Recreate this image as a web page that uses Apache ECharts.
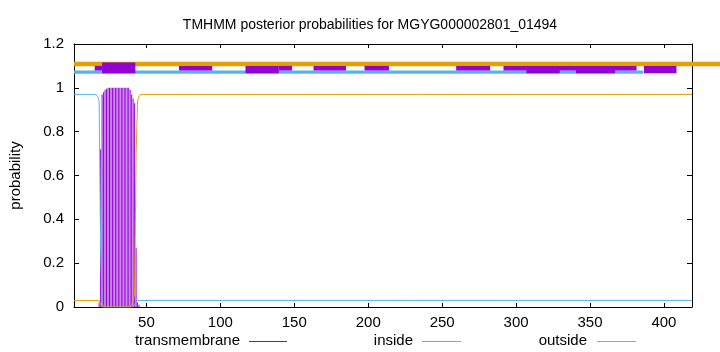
<!DOCTYPE html>
<html><head><meta charset="utf-8">
<script src="https://cdn.jsdelivr.net/npm/echarts@6/dist/echarts.min.js"></script>
<style>html,body{margin:0;padding:0;background:#fff}#c{width:720px;height:352px}</style>
</head><body><div id="c"></div>
<script>
// ---- data ----
const titleText = 'TMHMM posterior probabilities for MGYG000002801_01494';
const xTicks = [50, 100, 150, 200, 250, 300, 350, 400];
const yTicks = [0, 0.2, 0.4, 0.6, 0.8, 1, 1.2];
const seqStart = 1;
const seqEnd = 419;
const legendNames = ['transmembrane', 'inside', 'outside'];

// per-residue transmembrane posterior (impulses)
const transmembrane = [
  [17, 0.0], [18, 0.02], [19, 0.72], [20, 0.97], [21, 0.98], [22, 0.99], [23, 0.995],
  [24, 1.0], [25, 1.0], [26, 1.0], [27, 1.0], [28, 1.0], [29, 1.0], [30, 1.0],
  [31, 1.0], [32, 1.0], [33, 1.0], [34, 1.0], [35, 1.0], [36, 1.0], [37, 1.0],
  [38, 1.0], [39, 0.99], [40, 0.97], [41, 0.95], [42, 0.93], [43, 0.27], [44, 0.02], [45, 0.01]
];
// inside posterior (key residues; flat between them)
const inside = [
  [1, 0.97], [16, 0.97], [17, 0.96], [18, 0.94], [19, 0.27], [20, 0.02], [21, 0.0],
  [41, 0.0], [42, 0.01], [43, 0.03], [44, 0.03], [419, 0.03]
];
// outside posterior
const outside = [
  [1, 0.03], [18, 0.03], [19, 0.01], [20, 0.0], [39, 0.0], [40, 0.01], [41, 0.03],
  [42, 0.06], [43, 0.70], [44, 0.94], [45, 0.96], [46, 0.97], [419, 0.97]
];
// top topology tracks: [startResidue, endResidue]
const outsideTrack = [[1, 438]];
const insideTrack = [[1, 386]];
const tmThinTrack = [[15, 20], [72, 94.5], [139.5, 148.5], [163, 185], [197.5, 214], [259.5, 282.5], [291.5, 381.5]];
const tmWideTrack = [[117, 139.5], [307, 329.5], [340.5, 367], [386.5, 408.5]];
const tmHelixTrack = [[20, 42.5]];

// ---- styling / layout ----
const C_TM = '#9400d3', C_IN = '#56b4e9', C_OUT = '#e69f00';
const FONT = 'Liberation Sans, Arial, sans-serif';
const FS = 15;
const GRID = { left: 73, right: 28, top: 44, bottom: 45 };

function band(track, lo, hi, color, z) {
  return {
    type: 'custom', xAxisIndex: 0, yAxisIndex: 0, clip: false, z: z, silent: true,
    data: track.map(([a, b]) => [a, b, lo, hi]),
    encode: { x: [0, 1], y: [2, 3] },
    renderItem: (p, api) => {
      const p0 = api.coord([api.value(0), api.value(3)]);
      const p1 = api.coord([api.value(1), api.value(2)]);
      return { type: 'rect', shape: { x: p0[0], y: p0[1], width: p1[0] - p0[0], height: p1[1] - p0[1] }, style: { fill: color } };
    }
  };
}

const axisLineStyle = { color: '#000', width: 1 };
const xBase = {
  type: 'value', min: seqStart, max: seqEnd,
  axisLine: { show: true, onZero: false, lineStyle: axisLineStyle },
  axisTick: { show: true, inside: true, length: 4, customValues: xTicks, lineStyle: { color: '#000' } },
  splitLine: { show: false }
};
const yBase = {
  type: 'value', min: 0, max: 1.2, interval: 0.2,
  axisLine: { show: true, onZero: false, lineStyle: axisLineStyle },
  axisTick: { show: true, inside: true, length: 5, lineStyle: { color: '#000' } },
  splitLine: { show: false }
};

const chart = echarts.init(document.getElementById('c'), null, { renderer: 'canvas' });
chart.setOption({
  animation: false,
  backgroundColor: '#fff',
  title: {
    text: titleText, left: 365, top: 13, textAlign: 'center',
    textStyle: { fontFamily: FONT, fontSize: 14, fontWeight: 'normal', color: '#000' }
  },
  grid: GRID,
  xAxis: [
    Object.assign({}, xBase, {
      position: 'bottom',
      axisLabel: { show: true, customValues: xTicks, margin: 8, fontFamily: FONT, fontSize: FS, color: '#000' }
    }),
    Object.assign({}, xBase, { position: 'top', axisLabel: { show: false } })
  ],
  yAxis: [
    Object.assign({}, yBase, {
      position: 'left',
      name: 'probability', nameLocation: 'middle', nameGap: 51, nameRotate: 90,
      nameTextStyle: { fontFamily: FONT, fontSize: FS, color: '#000' },
      axisLabel: { show: true, margin: 10, fontFamily: FONT, fontSize: FS, color: '#000' }
    }),
    Object.assign({}, yBase, { position: 'right', axisLabel: { show: false } })
  ],
  series: [
    {
      name: legendNames[0], type: 'bar', xAxisIndex: 0, yAxisIndex: 0, barWidth: 1,
      data: transmembrane, itemStyle: { color: C_TM }, z: 2, silent: true
    },
    {
      name: legendNames[1], type: 'line', xAxisIndex: 0, yAxisIndex: 0, data: inside,
      showSymbol: false, symbol: 'none', lineStyle: { color: C_IN, width: 1 }, z: 3, silent: true
    },
    {
      name: legendNames[2], type: 'line', xAxisIndex: 0, yAxisIndex: 0, data: outside,
      showSymbol: false, symbol: 'none', lineStyle: { color: C_OUT, width: 1 }, z: 4, silent: true
    },
    band(outsideTrack, 1.099, 1.119, C_OUT, 5),
    band(insideTrack, 1.064, 1.079, C_IN, 5),
    band(tmThinTrack, 1.079, 1.100, C_TM, 6),
    band(tmWideTrack, 1.067, 1.100, C_TM, 6),
    band(tmHelixTrack, 1.067, 1.116, C_TM, 7)
  ],
  graphic: [
    { type: 'text', right: 720 - 240, top: 333, style: { text: legendNames[0], font: FS + 'px ' + FONT, fill: '#000', textAlign: 'right' } },
    { type: 'line', shape: { x1: 249, y1: 341.5, x2: 287, y2: 341.5 }, style: { stroke: C_TM, lineWidth: 1 } },
    { type: 'text', right: 720 - 413, top: 333, style: { text: legendNames[1], font: FS + 'px ' + FONT, fill: '#000', textAlign: 'right' } },
    { type: 'line', shape: { x1: 422, y1: 341.5, x2: 461, y2: 341.5 }, style: { stroke: C_IN, lineWidth: 1 } },
    { type: 'text', right: 720 - 587, top: 333, style: { text: legendNames[2], font: FS + 'px ' + FONT, fill: '#000', textAlign: 'right' } },
    { type: 'line', shape: { x1: 597, y1: 341.5, x2: 636, y2: 341.5 }, style: { stroke: C_OUT, lineWidth: 1 } }
  ]
});
</script>
</body></html>
